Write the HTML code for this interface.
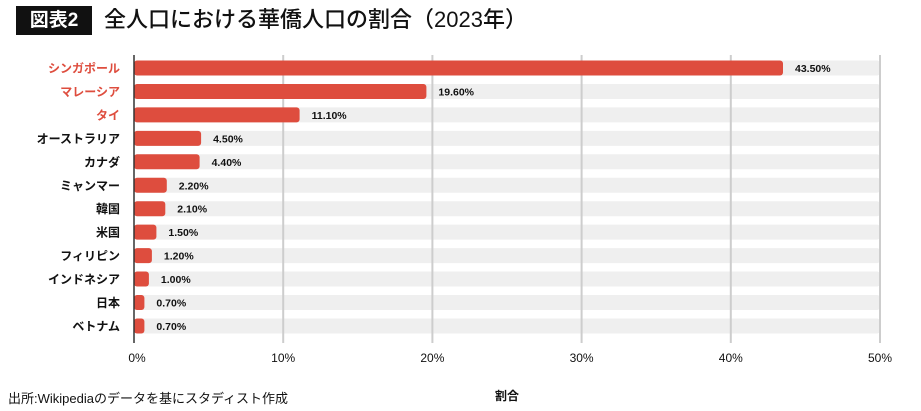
<!DOCTYPE html>
<html><head><meta charset="utf-8"><style>
body{margin:0;width:921px;height:411px;background:#fff;font-family:"Liberation Sans","Noto Sans CJK JP",sans-serif;position:relative;overflow:hidden}
.a{position:absolute}
</style></head><body>
<div class="a" style="left:16px;top:6px;width:76px;height:29px;background:#111;color:#fff;font-size:19px;font-weight:bold;line-height:29px;text-align:center">図表2</div>
<div class="a" style="left:104px;top:5px;font-size:22px;line-height:30px;color:#111;font-weight:500">全人口における華僑人口の割合（2023年）</div>
<svg class="a" style="left:0;top:0" width="921" height="411" font-family="Liberation Sans, Noto Sans CJK JP, sans-serif">
<g fill="#efefef">
<rect x="134" y="60.5" width="746" height="15" rx="3"/><rect x="134" y="83.95" width="746" height="15" rx="3"/><rect x="134" y="107.4" width="746" height="15" rx="3"/><rect x="134" y="130.85" width="746" height="15" rx="3"/><rect x="134" y="154.3" width="746" height="15" rx="3"/><rect x="134" y="177.75" width="746" height="15" rx="3"/><rect x="134" y="201.2" width="746" height="15" rx="3"/><rect x="134" y="224.65" width="746" height="15" rx="3"/><rect x="134" y="248.1" width="746" height="15" rx="3"/><rect x="134" y="271.55" width="746" height="15" rx="3"/><rect x="134" y="295" width="746" height="15" rx="3"/><rect x="134" y="318.45" width="746" height="15" rx="3"/>
</g>
<g stroke="#cdcdcd" stroke-width="2">
<line x1="283.2" y1="55" x2="283.2" y2="343"/><line x1="432.4" y1="55" x2="432.4" y2="343"/><line x1="581.6" y1="55" x2="581.6" y2="343"/><line x1="730.8" y1="55" x2="730.8" y2="343"/><line x1="880" y1="55" x2="880" y2="343"/>
</g>
<g font-size="12" text-anchor="middle" fill="#111">
<text x="137" y="362">0%</text><text x="283.2" y="362">10%</text><text x="432.4" y="362">20%</text><text x="581.6" y="362">30%</text><text x="730.8" y="362">40%</text><text x="880" y="362">50%</text>
</g>
<g fill="#de4d3e">
<rect x="134" y="60.5" width="649" height="15" rx="3"/><rect x="134" y="83.95" width="292.4" height="15" rx="3"/><rect x="134" y="107.4" width="165.6" height="15" rx="3"/><rect x="134" y="130.85" width="67.1" height="15" rx="3"/><rect x="134" y="154.3" width="65.6" height="15" rx="3"/><rect x="134" y="177.75" width="32.8" height="15" rx="3"/><rect x="134" y="201.2" width="31.3" height="15" rx="3"/><rect x="134" y="224.65" width="22.4" height="15" rx="3"/><rect x="134" y="248.1" width="17.9" height="15" rx="3"/><rect x="134" y="271.55" width="14.9" height="15" rx="3"/><rect x="134" y="295" width="10.4" height="15" rx="3"/><rect x="134" y="318.45" width="10.4" height="15" rx="3"/>
</g>
<g font-size="10.5" font-weight="bold" fill="#111">
<text x="795" y="72">43.50%</text><text x="438.4" y="95.45">19.60%</text><text x="311.6" y="118.9">11.10%</text><text x="213.1" y="142.35">4.50%</text><text x="211.6" y="165.8">4.40%</text><text x="178.8" y="189.25">2.20%</text><text x="177.3" y="212.7">2.10%</text><text x="168.4" y="236.15">1.50%</text><text x="163.9" y="259.6">1.20%</text><text x="160.9" y="283.05">1.00%</text><text x="156.4" y="306.5">0.70%</text><text x="156.4" y="329.95">0.70%</text>
</g>
<g font-size="12" font-weight="bold" text-anchor="end" fill="#111">
<text x="120" y="72.5" fill="#de4d3e">シンガポール</text><text x="120" y="95.95" fill="#de4d3e">マレーシア</text><text x="120" y="119.4" fill="#de4d3e">タイ</text><text x="120" y="142.85">オーストラリア</text><text x="120" y="166.3">カナダ</text><text x="120" y="189.75">ミャンマー</text><text x="120" y="213.2">韓国</text><text x="120" y="236.65">米国</text><text x="120" y="260.1">フィリピン</text><text x="120" y="283.55">インドネシア</text><text x="120" y="307">日本</text><text x="120" y="330.45">ベトナム</text>
</g>
<line x1="134" y1="55" x2="134" y2="343" stroke="#333" stroke-width="1.5"/>
<text x="8" y="403" font-size="13" fill="#111">出所:Wikipediaのデータを基にスタディスト作成</text>
<text x="507" y="400" font-size="12" font-weight="bold" text-anchor="middle" fill="#111">割合</text>
</svg>
</body></html>
